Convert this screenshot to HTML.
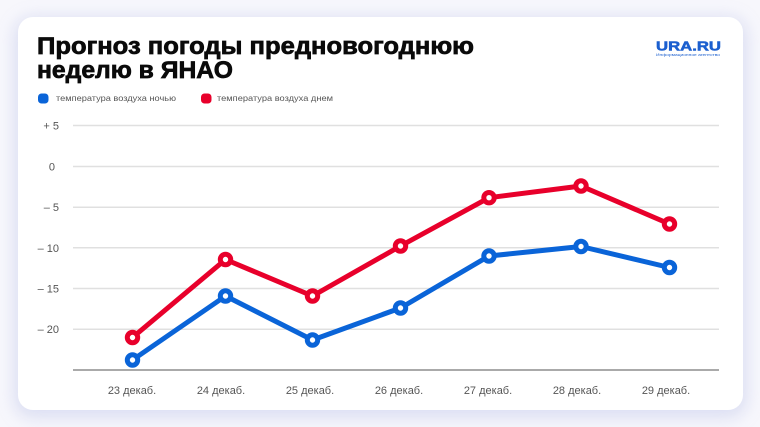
<!DOCTYPE html>
<html>
<head>
<meta charset="utf-8">
<style>
  html,body{margin:0;padding:0;}
  body{width:760px;height:427px;background:#f7f7fc;overflow:hidden;position:relative;font-family:"Liberation Sans","DejaVu Sans",sans-serif;}
  .card{position:absolute;left:18px;top:17px;width:725px;height:393px;background:#fff;border-radius:15px;box-shadow:0 4px 16px 4px rgba(170,178,225,0.35);}
  svg{position:absolute;left:0;top:0;}
</style>
</head>
<body>
<div class="card"></div>
<svg width="760" height="427" viewBox="0 0 760 427" xmlns="http://www.w3.org/2000/svg" font-family="Liberation Sans, DejaVu Sans, sans-serif">
  <!-- Title -->
  <text x="37" y="54" font-size="24" font-weight="bold" fill="#0a0a0a" stroke="#0a0a0a" stroke-width="0.7" textLength="437" lengthAdjust="spacingAndGlyphs">Прогноз погоды предновогоднюю</text>
  <text x="37" y="78" font-size="24" font-weight="bold" fill="#0a0a0a" stroke="#0a0a0a" stroke-width="0.7" textLength="196" lengthAdjust="spacingAndGlyphs">неделю в ЯНАО</text>

  <!-- Logo -->
  <text x="656" y="50.5" font-size="12.5" font-weight="bold" fill="#1b5fcf" stroke="#1b5fcf" stroke-width="0.5" textLength="65" lengthAdjust="spacingAndGlyphs">URA.RU</text>
  <text x="656" y="56" font-size="3.6" fill="#1b5fcf" textLength="64" lengthAdjust="spacingAndGlyphs">Информационное агентство</text>

  <!-- Legend -->
  <rect x="38" y="93.5" width="10.5" height="10" rx="3.5" fill="#0a64d8"/>
  <text x="56" y="101" font-size="8.6" fill="#555" textLength="120" lengthAdjust="spacingAndGlyphs">температура воздуха ночью</text>
  <rect x="201" y="93.5" width="10.5" height="10" rx="3.5" fill="#e8002b"/>
  <text x="217" y="101" font-size="8.6" fill="#555" textLength="116" lengthAdjust="spacingAndGlyphs">температура воздуха днем</text>

  <!-- Grid -->
  <g stroke="#e0e0e0" stroke-width="1.5">
    <line x1="73" y1="125.5" x2="719" y2="125.5"/>
    <line x1="73" y1="166.5" x2="719" y2="166.5"/>
    <line x1="73" y1="207.2" x2="719" y2="207.2"/>
    <line x1="73" y1="247.8" x2="719" y2="247.8"/>
    <line x1="73" y1="288.5" x2="719" y2="288.5"/>
    <line x1="73" y1="329.2" x2="719" y2="329.2"/>
  </g>
  <line x1="73" y1="370" x2="719" y2="370" stroke="#aaaaaa" stroke-width="2"/>

  <!-- Y labels -->
  <g font-size="11" fill="#555" text-anchor="end">
    <text x="59" y="129.5">+ 5</text>
    <text x="55" y="170.5">0</text>
    <text x="59" y="211.2">– 5</text>
    <text x="59" y="251.8">– 10</text>
    <text x="59" y="292.5">– 15</text>
    <text x="59" y="333.2">– 20</text>
  </g>

  <!-- X labels -->
  <g font-size="11" fill="#555" text-anchor="middle">
    <text x="132" y="394">23 декаб.</text>
    <text x="221" y="394">24 декаб.</text>
    <text x="310" y="394">25 декаб.</text>
    <text x="399" y="394">26 декаб.</text>
    <text x="488" y="394">27 декаб.</text>
    <text x="577" y="394">28 декаб.</text>
    <text x="666" y="394">29 декаб.</text>
  </g>

  <!-- Red series -->
  <polyline points="132.5,337.5 225.5,259.5 312.5,296 400.5,246 489,197.7 581,186 669.5,224" fill="none" stroke="#e8002b" stroke-width="5" stroke-linejoin="round"/>
  <g fill="#fff" stroke="#e8002b" stroke-width="5">
    <circle cx="132.5" cy="337.5" r="5.2"/>
    <circle cx="225.5" cy="259.5" r="5.2"/>
    <circle cx="312.5" cy="296" r="5.2"/>
    <circle cx="400.5" cy="246" r="5.2"/>
    <circle cx="489" cy="197.7" r="5.2"/>
    <circle cx="581" cy="186" r="5.2"/>
    <circle cx="669.5" cy="224" r="5.2"/>
  </g>

  <!-- Blue series -->
  <polyline points="132.5,360 225.5,296 312.5,340 400.5,308 489,256 581,246.5 669.5,267.5" fill="none" stroke="#0a64d8" stroke-width="5" stroke-linejoin="round"/>
  <g fill="#fff" stroke="#0a64d8" stroke-width="5">
    <circle cx="132.5" cy="360" r="5.2"/>
    <circle cx="225.5" cy="296" r="5.2"/>
    <circle cx="312.5" cy="340" r="5.2"/>
    <circle cx="400.5" cy="308" r="5.2"/>
    <circle cx="489" cy="256" r="5.2"/>
    <circle cx="581" cy="246.5" r="5.2"/>
    <circle cx="669.5" cy="267.5" r="5.2"/>
  </g>
</svg>
</body>
</html>
